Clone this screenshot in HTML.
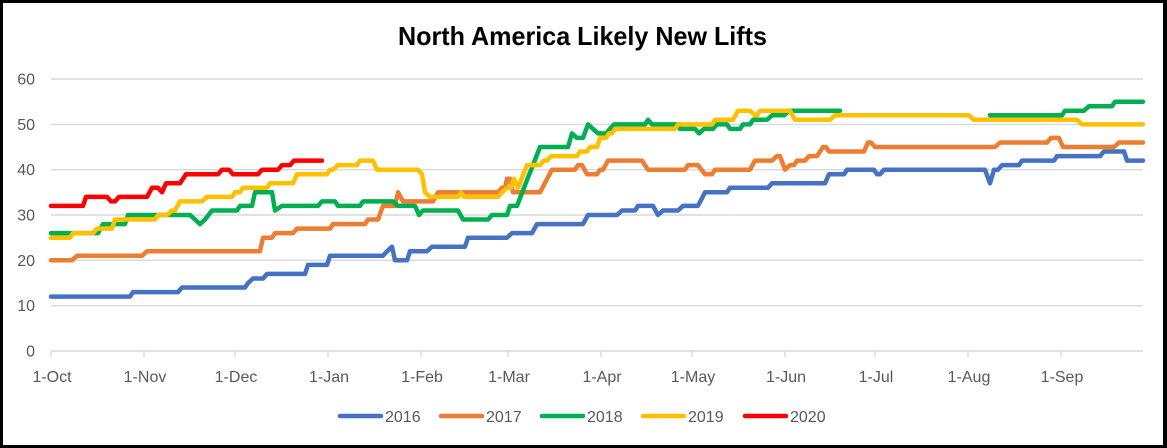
<!DOCTYPE html>
<html>
<head>
<meta charset="utf-8">
<style>
  html, body { margin:0; padding:0; background:#000; }
  svg { display:block; }
  .tk { font-family:"Liberation Sans", Arial, sans-serif; font-size:16px; fill:#595959; }
</style>
</head>
<body>
<svg width="1167" height="448" viewBox="0 0 1167 448" xmlns="http://www.w3.org/2000/svg">
  <rect x="0" y="0" width="1167" height="448" fill="#000"/>
  <rect x="3" y="3" width="1160" height="442" fill="#fff"/>

  <text x="582.5" y="45" text-anchor="middle" font-family="Liberation Sans, Arial, sans-serif" font-weight="bold" font-size="26" fill="#000" textLength="369" lengthAdjust="spacingAndGlyphs">North America Likely New Lifts</text>

  <!-- gridlines -->
  <g stroke="#d9d9d9" stroke-width="1.4">
    <line x1="51" y1="79" x2="1143" y2="79"/>
    <line x1="51" y1="124.4" x2="1143" y2="124.4"/>
    <line x1="51" y1="169.7" x2="1143" y2="169.7"/>
    <line x1="51" y1="215" x2="1143" y2="215"/>
    <line x1="51" y1="260.3" x2="1143" y2="260.3"/>
    <line x1="51" y1="305.7" x2="1143" y2="305.7"/>
    <line x1="51" y1="351" x2="1143" y2="351"/>
  </g>
  <!-- ticks -->
  <g stroke="#d9d9d9" stroke-width="1.4">
    <line x1="51" y1="351" x2="51" y2="357"/>
    <line x1="144" y1="351" x2="144" y2="357"/>
    <line x1="235" y1="351" x2="235" y2="357"/>
    <line x1="328" y1="351" x2="328" y2="357"/>
    <line x1="421" y1="351" x2="421" y2="357"/>
    <line x1="508" y1="351" x2="508" y2="357"/>
    <line x1="601" y1="351" x2="601" y2="357"/>
    <line x1="692" y1="351" x2="692" y2="357"/>
    <line x1="785" y1="351" x2="785" y2="357"/>
    <line x1="875" y1="351" x2="875" y2="357"/>
    <line x1="968" y1="351" x2="968" y2="357"/>
    <line x1="1061" y1="351" x2="1061" y2="357"/>
  </g>

  <!-- y labels -->
  <g class="tk" text-anchor="end">
    <text x="35" y="84.5">60</text>
    <text x="35" y="129.9">50</text>
    <text x="35" y="175.2">40</text>
    <text x="35" y="220.5">30</text>
    <text x="35" y="265.8">20</text>
    <text x="35" y="311.2">10</text>
    <text x="35" y="356.5">0</text>
  </g>
  <!-- x labels -->
  <g class="tk" text-anchor="middle">
    <text x="52" y="382">1-Oct</text>
    <text x="145" y="382">1-Nov</text>
    <text x="236" y="382">1-Dec</text>
    <text x="329" y="382">1-Jan</text>
    <text x="422" y="382">1-Feb</text>
    <text x="509" y="382">1-Mar</text>
    <text x="602" y="382">1-Apr</text>
    <text x="693" y="382">1-May</text>
    <text x="786" y="382">1-Jun</text>
    <text x="876" y="382">1-Jul</text>
    <text x="969" y="382">1-Aug</text>
    <text x="1062" y="382">1-Sep</text>
  </g>

  <g fill="none" stroke-width="4.5" stroke-linejoin="round" stroke-linecap="round">
    <!-- 2016 -->
    <polyline stroke="#4472C4" points="51,296.6 130,296.6 133,292.1 178,292.1 182,287.5 245,287.5 248,283.0 253,278.5 263,278.5 267,273.9 305,273.9 308,264.9 327,264.9 330,255.8 383,255.8 387,251.3 392,246.7 395,260.3 407,260.3 410,251.3 427,251.3 432,246.7 465,246.7 468,237.7 507,237.7 512,233.1 532,233.1 537,224.1 583,224.1 588,215.0 617,215.0 622,210.5 635,210.5 638,205.9 653,205.9 658,215.0 663,210.5 678,210.5 683,205.9 698,205.9 705,192.3 727,192.3 730,187.8 768,187.8 772,183.3 825,183.3 829,174.2 844,174.2 847,169.7 874,169.7 877,174.2 880,174.2 884,169.7 985,169.7 990,183.3 994,169.7 998,169.7 1002,165.1 1019,165.1 1022,160.6 1054,160.6 1057,156.1 1100,156.1 1104,151.5 1124,151.5 1127,160.6 1143,160.6"/>
    <!-- 2017 -->
    <polyline stroke="#ED7D31" points="51,260.3 72,260.3 77,255.8 142,255.8 147,251.3 260,251.3 263,237.7 272,237.7 275,233.1 293,233.1 297,228.6 330,228.6 333,224.1 365,224.1 368,219.5 378,219.5 383,205.9 395,205.9 398,192.3 403,201.4 433,201.4 438,192.3 498,192.3 502,187.8 505,187.8 507,178.7 510,178.7 513,192.3 540,192.3 552,169.7 575,169.7 578,165.1 582,165.1 587,174.2 597,174.2 600,169.7 603,169.7 608,160.6 642,160.6 648,169.7 685,169.7 688,165.1 698,165.1 705,174.2 712,174.2 715,169.7 750,169.7 755,160.6 772,160.6 777,156.1 780,156.1 785,169.7 790,165.1 794,165.1 797,160.6 805,160.6 809,156.1 817,156.1 823,147.0 826,147.0 829,151.5 864,151.5 868,142.5 871,142.5 875,147.0 995,147.0 1000,142.5 1047,142.5 1051,137.9 1059,137.9 1063,147.0 1114,147.0 1119,142.5 1143,142.5"/>
    <!-- 2018 -->
    <polyline stroke="#00B050" points="51,233.1 98,233.1 103,224.1 125,224.1 128,215.0 190,215.0 195,219.5 200,224.1 205,219.5 212,210.5 237,210.5 240,205.9 252,205.9 255,192.3 272,192.3 275,210.5 282,205.9 318,205.9 322,201.4 335,201.4 338,205.9 360,205.9 363,201.4 393,201.4 398,205.9 415,205.9 419,215.0 423,210.5 458,210.5 463,219.5 488,219.5 492,215.0 507,215.0 510,205.9 517,205.9 522,193 527,180 533,165 540,147.0 568,147.0 572,133.4 577,137.9 583,137.9 588,124.4 593,128.9 598,133.4 606,133.4 610,128.9 614,124.4 645,124.4 648,119.8 652,124.4 677,124.4 680,128.9 695,128.9 699,133.4 704,128.9 713,128.9 717,124.4 727,124.4 730,128.9 740,128.9 743,124.4 750,124.4 753,119.8 767,119.8 772,115.3 784,115.3 789,110.7 840,110.7"/>
    <polyline stroke="#00B050" points="990,115.3 1062,115.3 1065,110.7 1084,110.7 1089,106.2 1112,106.2 1115,101.7 1143,101.7"/>
    <!-- 2019 -->
    <polyline stroke="#FFC000" points="51,237.7 70,237.7 73,233.1 93,233.1 97,228.6 112,228.6 115,219.5 155,219.5 158,215.0 167,215.0 172,210.5 175,210.5 180,201.4 202,201.4 207,196.9 232,196.9 235,192.3 240,192.3 243,187.8 267,187.8 270,183.3 293,183.3 297,174.2 327,174.2 330,169.7 333,169.7 338,165.1 357,165.1 360,160.6 373,160.6 377,169.7 418,169.7 422,174.2 425,192.3 430,196.9 458,196.9 461,192.3 464,196.9 498,196.9 502,192.3 507,187.8 511,187.8 514,178.7 518,187.8 527,165.1 540,165.1 544,160.6 547,160.6 551,156.1 577,156.1 580,151.5 587,151.5 590,147.0 597,147.0 600,137.9 606,137.9 609,133.4 612,133.4 615,128.9 675,128.9 678,124.4 712,124.4 715,119.8 733,119.8 738,110.7 750,110.7 755,115.3 757,115.3 760,110.7 790,110.7 795,119.8 830,119.8 835,115.3 969,115.3 974,119.8 1077,119.8 1082,124.4 1143,124.4"/>
    <!-- 2020 -->
    <polyline stroke="#FF0000" points="51,205.9 83,205.9 86,196.9 107,196.9 111,201.4 115,201.4 119,196.9 147,196.9 152,187.8 158,187.8 162,192.3 166,183.3 180,183.3 186,174.2 218,174.2 222,169.7 229,169.7 233,174.2 258,174.2 262,169.7 278,169.7 282,165.1 290,165.1 294,160.6 322,160.6"/>
  </g>

  <!-- legend -->
  <g stroke-width="4.5" stroke-linecap="round">
    <line x1="340" y1="416" x2="381" y2="416" stroke="#4472C4"/>
    <line x1="441" y1="416" x2="482" y2="416" stroke="#ED7D31"/>
    <line x1="542" y1="416" x2="583" y2="416" stroke="#00B050"/>
    <line x1="643" y1="416" x2="684" y2="416" stroke="#FFC000"/>
    <line x1="745" y1="416" x2="786" y2="416" stroke="#FF0000"/>
  </g>
  <g class="tk">
    <text x="385" y="422">2016</text>
    <text x="486" y="422">2017</text>
    <text x="587" y="422">2018</text>
    <text x="688" y="422">2019</text>
    <text x="790" y="422">2020</text>
  </g>
</svg>
</body>
</html>
